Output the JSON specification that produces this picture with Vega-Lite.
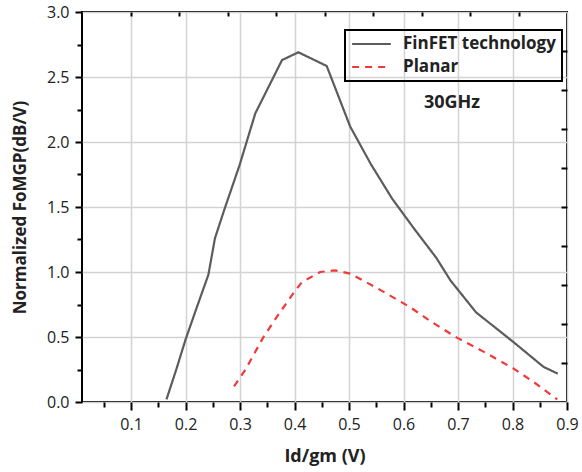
{
  "$schema": "https://vega.github.io/schema/vega-lite/v6.json",
  "width": 485,
  "height": 390,
  "autosize": {"type": "none"},
  "padding": {"left": 82, "top": 12, "right": 15, "bottom": 70},
  "background": "white",
  "config": {
    "view": {"stroke": "black", "strokeWidth": 2},
    "font": "Open Sans",
    "axis": {
      "labelFont": "Open Sans",
      "labelFontSize": 16,
      "labelColor": "#222",
      "titleFont": "Open Sans",
      "titleFontSize": 17,
      "titleFontWeight": "bold",
      "titleColor": "#222",
      "tickColor": "black",
      "tickWidth": 2,
      "domain": false,
      "gridColor": "#d3d3d3",
      "gridWidth": 1.5
    },
    "legend": {
      "labelFont": "Open Sans",
      "labelFontSize": 17,
      "labelFontWeight": "bold",
      "labelColor": "#222",
      "strokeColor": "black",
      "strokeWidth": 2
    }
  },
  "data": {
    "values": [
      {"series": "FinFET technology", "x": 0.165, "y": 0.02},
      {"series": "FinFET technology", "x": 0.183, "y": 0.25},
      {"series": "FinFET technology", "x": 0.2, "y": 0.48},
      {"series": "FinFET technology", "x": 0.22, "y": 0.72},
      {"series": "FinFET technology", "x": 0.242, "y": 0.98},
      {"series": "FinFET technology", "x": 0.254, "y": 1.26},
      {"series": "FinFET technology", "x": 0.272, "y": 1.49},
      {"series": "FinFET technology", "x": 0.299, "y": 1.82},
      {"series": "FinFET technology", "x": 0.328, "y": 2.22},
      {"series": "FinFET technology", "x": 0.377, "y": 2.63},
      {"series": "FinFET technology", "x": 0.407, "y": 2.69},
      {"series": "FinFET technology", "x": 0.459, "y": 2.585},
      {"series": "FinFET technology", "x": 0.502, "y": 2.12},
      {"series": "FinFET technology", "x": 0.54, "y": 1.83},
      {"series": "FinFET technology", "x": 0.579, "y": 1.565},
      {"series": "FinFET technology", "x": 0.62, "y": 1.33},
      {"series": "FinFET technology", "x": 0.66, "y": 1.11},
      {"series": "FinFET technology", "x": 0.686, "y": 0.936},
      {"series": "FinFET technology", "x": 0.733, "y": 0.69},
      {"series": "FinFET technology", "x": 0.802, "y": 0.46},
      {"series": "FinFET technology", "x": 0.857, "y": 0.27},
      {"series": "FinFET technology", "x": 0.883, "y": 0.218},
      {"series": "Planar", "x": 0.289, "y": 0.12},
      {"series": "Planar", "x": 0.31, "y": 0.25},
      {"series": "Planar", "x": 0.343, "y": 0.5},
      {"series": "Planar", "x": 0.37, "y": 0.67},
      {"series": "Planar", "x": 0.395, "y": 0.82},
      {"series": "Planar", "x": 0.413, "y": 0.92},
      {"series": "Planar", "x": 0.447, "y": 1.0},
      {"series": "Planar", "x": 0.474, "y": 1.013},
      {"series": "Planar", "x": 0.502, "y": 0.988},
      {"series": "Planar", "x": 0.55, "y": 0.88},
      {"series": "Planar", "x": 0.612, "y": 0.73},
      {"series": "Planar", "x": 0.65, "y": 0.62},
      {"series": "Planar", "x": 0.698, "y": 0.495},
      {"series": "Planar", "x": 0.75, "y": 0.38},
      {"series": "Planar", "x": 0.802, "y": 0.257},
      {"series": "Planar", "x": 0.84, "y": 0.15},
      {"series": "Planar", "x": 0.882, "y": 0.02}
    ]
  },
  "resolve": {"axis": {"x": "independent", "y": "independent"}},
  "layer": [
    {
      "mark": {"type": "line", "strokeWidth": 2.2},
      "encoding": {
        "x": {
          "field": "x", "type": "quantitative",
          "scale": {"domain": [0.01, 0.9], "nice": false, "zero": false},
          "axis": {
            "orient": "bottom",
            "title": "Id/gm (V)",
            "titlePadding": 15,
            "titleFontSize": 18,
            "values": [0.05, 0.1, 0.15, 0.2, 0.25, 0.3, 0.35, 0.4, 0.45, 0.5, 0.55, 0.6, 0.65, 0.7, 0.75, 0.8, 0.85, 0.9],
            "labelExpr": "abs(datum.value*10 - round(datum.value*10)) < 0.001 ? format(datum.value, '.1f') : ''",
            "tickSize": {"condition": {"test": "abs(datum.value*10 - round(datum.value*10)) < 0.001", "value": 8}, "value": 5},
            "gridOpacity": {"condition": {"test": "abs(datum.value*10 - round(datum.value*10)) < 0.001", "value": 1}, "value": 0},
            "labelPadding": 6,
            "labelFlush": false,
            "labelOverlap": false
          }
        },
        "y": {
          "field": "y", "type": "quantitative",
          "scale": {"domain": [0, 3], "nice": false},
          "axis": {
            "orient": "left",
            "title": "Normalized FoMGP(dB/V)",
            "titlePadding": 17,
            "values": [0, 0.25, 0.5, 0.75, 1, 1.25, 1.5, 1.75, 2, 2.25, 2.5, 2.75, 3],
            "labelExpr": "abs(datum.value*2 - round(datum.value*2)) < 0.001 ? format(datum.value, '.1f') : ''",
            "tickSize": {"condition": {"test": "abs(datum.value*2 - round(datum.value*2)) < 0.001", "value": 7}, "value": 5},
            "gridOpacity": {"condition": {"test": "abs(datum.value*2 - round(datum.value*2)) < 0.001", "value": 1}, "value": 0},
            "labelPadding": 6,
            "labelFlush": false,
            "labelOverlap": false
          }
        },
        "color": {
          "field": "series", "type": "nominal",
          "scale": {"domain": ["FinFET technology", "Planar"], "range": ["#5c5c5c", "#f03a3a"]},
          "legend": {
            "title": null,
            "orient": "none",
            "legendX": 263,
            "legendY": 18,
            "symbolType": "stroke",
            "symbolSize": 1500,
            "symbolStrokeWidth": 2.2,
            "clipHeight": 16,
            "padding": 6,
            "rowPadding": 6,
            "labelOffset": 11,
            "labelLimit": 300
          }
        },
        "strokeDash": {
          "field": "series", "type": "nominal",
          "scale": {"domain": ["FinFET technology", "Planar"], "range": [[1, 0], [7, 6]]},
          "legend": {
            "title": null,
            "orient": "none",
            "legendX": 263,
            "legendY": 18,
            "symbolType": "stroke",
            "symbolSize": 1500,
            "symbolStrokeWidth": 2.2,
            "clipHeight": 16,
            "padding": 6,
            "rowPadding": 6,
            "labelOffset": 11,
            "labelLimit": 300
          }
        }
      }
    },
    {
      "data": {"values": [{"label": "30GHz"}]},
      "mark": {"type": "text", "font": "Open Sans", "fontSize": 18, "fontWeight": "bold", "color": "#222", "align": "center", "baseline": "middle"},
      "encoding": {
        "x": {
          "datum": 0.689, "type": "quantitative",
          "axis": {
            "orient": "top", "title": null, "labels": false, "grid": false, "domain": false,
            "values": [0.099, 0.188, 0.277, 0.366, 0.455, 0.544, 0.633, 0.722, 0.811],
            "tickSize": 4, "offset": -4
          }
        },
        "y": {
          "datum": 2.3, "type": "quantitative",
          "axis": {
            "orient": "right", "title": null, "labels": false, "grid": false, "domain": false,
            "values": [0.3, 0.6, 0.9, 1.2, 1.5, 1.8, 2.1, 2.4, 2.7],
            "tickSize": 6, "offset": -6
          }
        },
        "text": {"field": "label"}
      }
    }
  ]
}
